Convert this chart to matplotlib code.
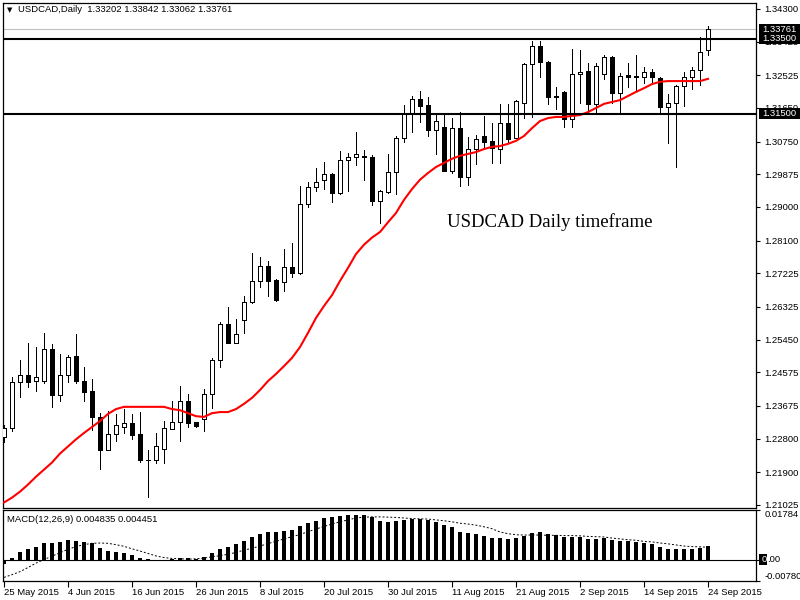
import matplotlib
matplotlib.use('Agg')
import matplotlib.pyplot as plt
from matplotlib.patches import Rectangle
from matplotlib.transforms import blended_transform_factory as btf

plt.rcParams['font.family'] = ['Liberation Sans', 'DejaVu Sans']

# ---------------- data ----------------
opens = [1.2284, 1.2308, 1.2432, 1.2450, 1.2434, 1.2434, 1.2520, 1.2397, 1.2450, 1.2501,
         1.2434, 1.2407, 1.2338, 1.2249, 1.2292, 1.2311, 1.2322, 1.2292, 1.2223, 1.2223,
         1.2252, 1.2306, 1.2325, 1.2381, 1.2325, 1.2333, 1.2399, 1.2490, 1.2587, 1.2536,
         1.2597, 1.2646, 1.2702, 1.2742, 1.2705, 1.2700, 1.2740, 1.2724, 1.2908, 1.2954,
         1.2972, 1.2988, 1.2937, 1.3026, 1.3034, 1.3036, 1.3034, 1.2916, 1.2940, 1.2994,
         1.3085, 1.3152, 1.3189, 1.3173, 1.3106, 1.3114, 1.2996, 1.3112, 1.2980, 1.3055,
         1.3090, 1.3077, 1.3055, 1.3125, 1.3085, 1.3179, 1.3283, 1.3331, 1.3288, 1.3196,
         1.3208, 1.3136, 1.3256, 1.3264, 1.3176, 1.3256, 1.3302, 1.3205, 1.3253, 1.3251,
         1.3248, 1.3261, 1.3245, 1.3168, 1.3178, 1.3224, 1.3248, 1.3267, 1.33202]
highs = [1.2316, 1.2445, 1.2490, 1.2536, 1.2525, 1.2563, 1.2533, 1.2506, 1.2504, 1.2560,
         1.2472, 1.2440, 1.2349, 1.2354, 1.2346, 1.2359, 1.2346, 1.2351, 1.2249, 1.2295,
         1.2327, 1.2381, 1.2421, 1.2399, 1.2325, 1.2413, 1.2496, 1.2592, 1.2632, 1.2600,
         1.2662, 1.2777, 1.2766, 1.2756, 1.2707, 1.2788, 1.2804, 1.2956, 1.2967, 1.3004,
         1.3020, 1.2990, 1.3050, 1.3045, 1.3101, 1.3053, 1.3039, 1.2945, 1.3042, 1.3090,
         1.3173, 1.3197, 1.3210, 1.3194, 1.3152, 1.3152, 1.3138, 1.3154, 1.3087, 1.3093,
         1.3144, 1.3125, 1.3176, 1.3176, 1.3186, 1.3285, 1.3344, 1.3344, 1.3290, 1.3221,
         1.3210, 1.3323, 1.3320, 1.3285, 1.3285, 1.3307, 1.3304, 1.3259, 1.3285, 1.3307,
         1.3275, 1.3269, 1.3248, 1.3202, 1.3227, 1.3261, 1.3275, 1.3355, 1.33842]
lows = [1.2271, 1.2300, 1.2391, 1.2418, 1.2407, 1.2429, 1.2365, 1.2381, 1.2432, 1.2429,
        1.2381, 1.2303, 1.2199, 1.2249, 1.2274, 1.2295, 1.2279, 1.2217, 1.2124, 1.2215,
        1.2215, 1.2306, 1.2274, 1.2311, 1.2311, 1.2300, 1.2362, 1.2472, 1.2536, 1.2536,
        1.2563, 1.2643, 1.2686, 1.2662, 1.2648, 1.2675, 1.2713, 1.2721, 1.2900, 1.2943,
        1.2948, 1.2913, 1.2935, 1.2943, 1.3012, 1.2972, 1.2905, 1.2857, 1.2937, 1.2935,
        1.3074, 1.3101, 1.3128, 1.3090, 1.3042, 1.2996, 1.2991, 1.2956, 1.2958, 1.3015,
        1.3055, 1.3018, 1.3018, 1.3074, 1.3085, 1.3138, 1.3141, 1.3248, 1.3176, 1.3162,
        1.3114, 1.3114, 1.3178, 1.3154, 1.3152, 1.3243, 1.3178, 1.3149, 1.3221, 1.3210,
        1.3232, 1.3232, 1.3154, 1.3071, 1.3007, 1.3170, 1.3216, 1.3227, 1.33062]
closes = [1.2308, 1.2432, 1.2450, 1.2432, 1.2445, 1.2520, 1.2397, 1.2450, 1.2498, 1.2434,
          1.2405, 1.2338, 1.2249, 1.2292, 1.2316, 1.2322, 1.2290, 1.2223, 1.2222, 1.2260,
          1.2308, 1.2325, 1.2381, 1.2322, 1.2314, 1.2399, 1.2490, 1.2587, 1.2536, 1.2560,
          1.2646, 1.2702, 1.2742, 1.2702, 1.2651, 1.2740, 1.2724, 1.2908, 1.2954, 1.2967,
          1.2988, 1.2937, 1.3026, 1.3034, 1.3042, 1.3034, 1.2916, 1.2943, 1.2994, 1.3085,
          1.3152, 1.3189, 1.3170, 1.3106, 1.3130, 1.2996, 1.3112, 1.2980, 1.3055, 1.3082,
          1.3074, 1.3058, 1.3125, 1.3082, 1.3184, 1.3283, 1.3331, 1.3288, 1.3194, 1.3194,
          1.3136, 1.3256, 1.3261, 1.3176, 1.3277, 1.3302, 1.3205, 1.3251, 1.3248, 1.3248,
          1.3261, 1.3248, 1.3168, 1.3178, 1.3224, 1.3248, 1.3267, 1.3315, 1.33761]
ma_values = [1.2109, 1.2122, 1.2138, 1.2157, 1.2178, 1.2197, 1.2216, 1.2240, 1.2259, 1.2278,
             1.2295, 1.2311, 1.2327, 1.2346, 1.2359, 1.2365, 1.2365, 1.2365, 1.2365, 1.2365,
             1.2365, 1.2359, 1.2356, 1.2348, 1.2340, 1.2338, 1.2348, 1.2351, 1.2351, 1.2359,
             1.2373, 1.2389, 1.2410, 1.2434, 1.2453, 1.2474, 1.2496, 1.2525, 1.2563, 1.2603,
             1.2635, 1.2664, 1.2702, 1.2737, 1.2774, 1.2799, 1.2818, 1.2833, 1.2859, 1.2884,
             1.2919, 1.2948, 1.2973, 1.2991, 1.3007, 1.3018, 1.3029, 1.3037, 1.3042, 1.3047,
             1.3055, 1.3061, 1.3063, 1.3069, 1.3077, 1.3090, 1.3111, 1.3130, 1.3138, 1.3141,
             1.3141, 1.3144, 1.3146, 1.3154, 1.3165, 1.3176, 1.3181, 1.3186, 1.3197, 1.3208,
             1.3218, 1.3229, 1.3235, 1.3237, 1.3237, 1.3237, 1.3237, 1.3237, 1.3243]
macd_values = [-0.0018, 0.0006, 0.0026, 0.0040, 0.0047, 0.0061, 0.0061, 0.0065, 0.0072, 0.0069,
               0.0064, 0.0059, 0.0043, 0.0032, 0.0028, 0.0025, 0.0018, 0.0007, 0.0001, -0.0003,
               -0.0003, 0.0001, 0.0005, 0.0005, 0.0003, 0.0008, 0.0022, 0.0040, 0.0047, 0.0058,
               0.0069, 0.0083, 0.0094, 0.0100, 0.0101, 0.0105, 0.0108, 0.0123, 0.0132, 0.0141,
               0.0151, 0.0155, 0.0159, 0.0162, 0.0162, 0.0162, 0.0153, 0.0141, 0.0137, 0.0141,
               0.0142, 0.0148, 0.0148, 0.0142, 0.0137, 0.0124, 0.0119, 0.0101, 0.0095, 0.0091,
               0.0087, 0.0079, 0.0079, 0.0073, 0.0077, 0.0087, 0.0097, 0.0101, 0.0094, 0.0090,
               0.0082, 0.0081, 0.0081, 0.0073, 0.0076, 0.0078, 0.0072, 0.0066, 0.0066, 0.0062,
               0.0059, 0.0055, 0.0044, 0.0039, 0.0039, 0.0039, 0.0040, 0.0043, 0.004835]
signal_values = [-0.0065, -0.0055, -0.0044, -0.0029, -0.0013, 0.0000, 0.0012, 0.0025, 0.0037, 0.0047,
                 0.0054, 0.0059, 0.0060, 0.0059, 0.0054, 0.0048, 0.0039, 0.0031, 0.0022, 0.0013,
                 0.0007, 0.0004, 0.0003, 0.0001, 0.0003, 0.0005, 0.0010, 0.0014, 0.0019, 0.0026,
                 0.0034, 0.0041, 0.0049, 0.0058, 0.0066, 0.0075, 0.0083, 0.0091, 0.0101, 0.0111,
                 0.0120, 0.0129, 0.0137, 0.0144, 0.0151, 0.0154, 0.0155, 0.0155, 0.0154, 0.0153,
                 0.0151, 0.0149, 0.0148, 0.0147, 0.0144, 0.0141, 0.0137, 0.0132, 0.0129, 0.0125,
                 0.0119, 0.0112, 0.0100, 0.0094, 0.0090, 0.0089, 0.0089, 0.0089, 0.0088, 0.0088,
                 0.0087, 0.0087, 0.0086, 0.0084, 0.0083, 0.0082, 0.0078, 0.0075, 0.0072, 0.0070,
                 0.0066, 0.0064, 0.0060, 0.0057, 0.0053, 0.0049, 0.0047, 0.0046, 0.004451]
date_labels = ['25 May 2015', '4 Jun 2015', '16 Jun 2015', '26 Jun 2015', '8 Jul 2015',
               '20 Jul 2015', '30 Jul 2015', '11 Aug 2015', '21 Aug 2015', '2 Sep 2015',
               '14 Sep 2015', '24 Sep 2015']
price_ticks = [1.34300, 1.33425, 1.32525, 1.31650, 1.30750, 1.29875, 1.29000, 1.28100,
               1.27225, 1.26325, 1.25450, 1.24575, 1.23675, 1.22800, 1.21900, 1.21025]
level_lines = [1.33500, 1.31500]
last_price = 1.33761
macd_ticks = [0.01784, 0.0, -0.007805]

# ---------------- figure ----------------
FS = 6.8
fig = plt.figure(figsize=(8, 6), dpi=100)
fig.patch.set_facecolor('white')
ax = fig.add_axes([3 / 800, 1 - 508 / 600, 753 / 800, 505 / 600])
ax2 = fig.add_axes([3 / 800, 1 - 581 / 600, 753 / 800, 71 / 600])

n = len(closes)
xs = list(range(n))
body_w = 0.56
for i in xs:
    o, h, l, c = opens[i], highs[i], lows[i], closes[i]
    ax.vlines(i, l, h, color='black', lw=0.72, zorder=2, antialiased=False)
    bottom = min(o, c)
    height = max(abs(c - o), 0.00002)
    fc = 'white' if c >= o else 'black'
    ax.add_patch(Rectangle((i - body_w / 2, bottom), body_w, height, facecolor=fc,
                           edgecolor='black', lw=0.72, zorder=3, antialiased=False))

ax.plot(xs, ma_values, color='#FF0000', lw=1.5, zorder=4)

for lv in level_lines:
    ax.axhline(lv, color='black', lw=1.5, zorder=5)
ax.axhline(last_price, color='#C0C0C0', lw=0.8, zorder=1)

ylo, yhi = 1.20942, 1.3446
ax.set_xlim(-0.125, 94)
ax.set_ylim(ylo, yhi)
ax.set_xticks([])
ax.yaxis.tick_right()
ax.set_yticks(price_ticks)
ax.set_yticklabels(['%.5f' % v for v in price_ticks])
ax.tick_params(axis='y', direction='out', length=3, width=0.8, labelsize=FS, pad=3,
               colors='black')
for s in ax.spines.values():
    s.set_linewidth(0.9)
    s.set_color('black')

# black value boxes on the price scale
tr = btf(ax.transAxes, ax.transData)
px_price = (yhi - ylo) / 505
box_h = 10.5 * px_price
for lv in [last_price] + level_lines:
    ax.add_patch(Rectangle(((759 - 3) / 753, lv - box_h / 2), 45 / 753, box_h, transform=tr,
                           facecolor='black', edgecolor='none', clip_on=False, zorder=9))
    ax.text((762 - 3) / 753, lv, '%.5f' % lv, transform=tr, color='white', fontsize=FS,
            ha='left', va='center', clip_on=False, zorder=10)

ax.text(4 / 753, (508 - 10) / 505, '\u25BC', transform=ax.transAxes, fontsize=5,
        family=['DejaVu Sans'], ha='left', va='center')
ax.text(15 / 753, (508 - 10) / 505, 'USDCAD,Daily  1.33202 1.33842 1.33062 1.33761',
        transform=ax.transAxes, fontsize=FS, ha='left', va='center', color='black')
ax.text((447 - 3) / 753, (508 - 222) / 505, 'USDCAD Daily timeframe', transform=ax.transAxes,
        fontsize=13.5, family=['Liberation Serif'], ha='left', va='center', color='black')

# ---------------- MACD panel ----------------
mlo, mhi = -0.007805, 0.0180
ax2.bar(xs, macd_values, width=0.4, color='black', zorder=3, antialiased=False)
ax2.plot(xs, signal_values, color='black', lw=0.7, ls=(0, (2, 2)), zorder=4)
ax2.axhline(0, color='black', lw=0.8, zorder=2)
ax2.set_xlim(-0.125, 94)
ax2.set_ylim(mlo, mhi)
ax2.yaxis.tick_right()
ax2.set_yticks(macd_ticks)
ax2.set_yticklabels(['0.01784', '', '-0.007805'])
ylbls = ax2.get_yticklabels()
ylbls[0].set_va('top')
ylbls[2].set_va('bottom')
ax2.tick_params(axis='y', direction='out', length=3, width=0.8, labelsize=FS, pad=3)
ax2.set_xticks(list(range(0, n, 8)))
ax2.set_xticklabels(date_labels)
for lbl in ax2.get_xticklabels():
    lbl.set_ha('left')
ax2.tick_params(axis='x', direction='out', length=4, width=0.8, labelsize=FS, pad=1)
for s in ax2.spines.values():
    s.set_linewidth(0.9)
    s.set_color('black')

tr2 = btf(ax2.transAxes, ax2.transData)
px_macd = (mhi - mlo) / 71
ax2.add_patch(Rectangle(((759 - 3) / 753, -5.5 * px_macd), 7.5 / 753, 11 * px_macd,
                        transform=tr2, facecolor='black', edgecolor='none', clip_on=False,
                        zorder=9))
ax2.text((762 - 3) / 753, 0.0, '0', transform=tr2, color='white', fontsize=FS,
         ha='left', va='center', clip_on=False, zorder=10)
ax2.text((767.4 - 3) / 753, 0.0, '.00', transform=tr2, color='black', fontsize=FS,
         ha='left', va='center', clip_on=False, zorder=10)
ax2.text(4 / 753, (581 - 519) / 71, 'MACD(12,26,9) 0.004835 0.004451', transform=ax2.transAxes,
         fontsize=FS, ha='left', va='center', color='black')

fig.savefig('out.png', dpi=100, facecolor='white')
